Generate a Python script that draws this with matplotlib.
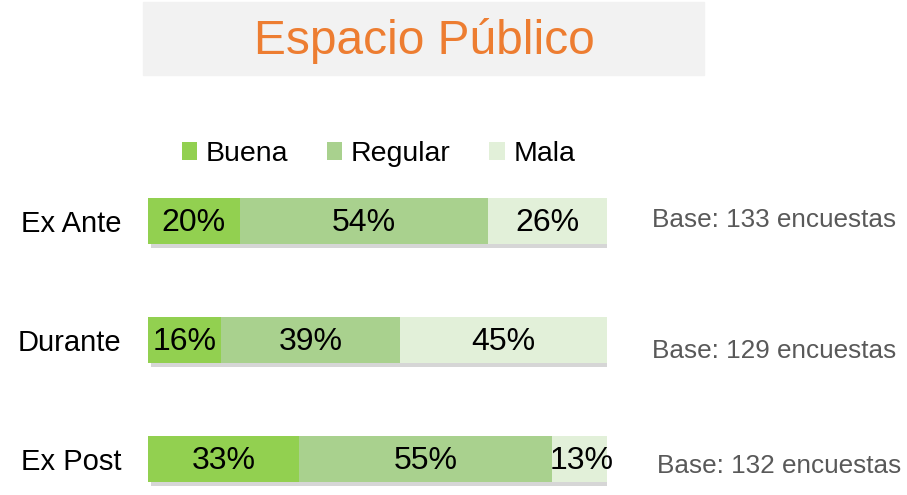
import matplotlib.pyplot as plt
import matplotlib.patheffects as pe
from matplotlib.patches import Rectangle
import numpy as np

plt.rcParams['font.family'] = ['Liberation Sans', 'DejaVu Sans']

# data
periods = ['Ex Ante', 'Durante', 'Ex Post']
buena = [20, 16, 33]
regular = [54, 39, 55]
mala = [26, 45, 13]
bases = ['Base: 133 encuestas', 'Base: 129 encuestas', 'Base: 132 encuestas']
series_names = ['Buena', 'Regular', 'Mala']
colors = ['#92D050', '#A9D18E', '#E2F0D9']

W, H = 907, 495
fig = plt.figure(figsize=(W / 100, H / 100), dpi=100)

# title box
fig.patches.append(Rectangle((143 / W, 1 - 75 / H), (704 - 143) / W, 73 / H,
                             transform=fig.transFigure, color='#F2F2F2', zorder=0))
fig.text(424 / W, 1 - 41 / H, 'Espacio Público', ha='center', va='center',
         fontsize=34.5, color='#ED7D31')

# axes: x 0..100 -> px 148..607
ax_top, ax_bot = 100, 495
ax = fig.add_axes([148 / W, 1 - ax_bot / H, 459 / W, (ax_bot - ax_top) / H])
px = 119.0
ax.set_ylim((ax_bot - 221) / px, -(221 - ax_top) / px)
ax.set_xlim(0, 100)

y = np.arange(len(periods))
vals = np.array([buena, regular, mala], dtype=float)
totals = vals.sum(axis=0)
h = 0.39

# soft shadow behind full bar
ax.barh(y, totals, height=h, color='white', zorder=1,
        path_effects=[pe.SimplePatchShadow(offset=(2, -3), shadow_rgbFace='#8C8C8C', alpha=0.35),
                      pe.Normal()])

left = np.zeros(len(periods))
handles = []
for i, name in enumerate(series_names):
    bars = ax.barh(y, vals[i], left=left, height=h, color=colors[i], label=name, zorder=2)
    handles.append(bars)
    for j in range(len(periods)):
        ax.text(left[j] + vals[i][j] / 2, y[j] + 0.02, f'{int(vals[i][j])}%',
                ha='center', va='center', fontsize=23, color='black', zorder=3)
    left += vals[i]

ax.set_yticks(y)
ax.set_yticklabels(periods, fontsize=21)
ax.tick_params(axis='y', length=0, pad=19)
ax.tick_params(axis='x', bottom=False, labelbottom=False)
for s in ax.spines.values():
    s.set_visible(False)
ax.patch.set_alpha(0)

# base texts
base_y = [220, 351, 466]
base_x = [652, 652, 657]
for t, bx, by in zip(bases, base_x, base_y):
    fig.text(bx / W, 1 - by / H, t, ha='left', va='center', fontsize=18.8, color='#595959')

leg = ax.legend(handles=handles, loc='center', bbox_to_anchor=(0.502, 1 - (154 - ax_top) / (ax_bot - ax_top)),
                ncol=3, frameon=False, fontsize=20.5, handlelength=0.55, handleheight=0.55,
                handletextpad=0.3, columnspacing=1.35)

fig.savefig('out.png', dpi=100)
